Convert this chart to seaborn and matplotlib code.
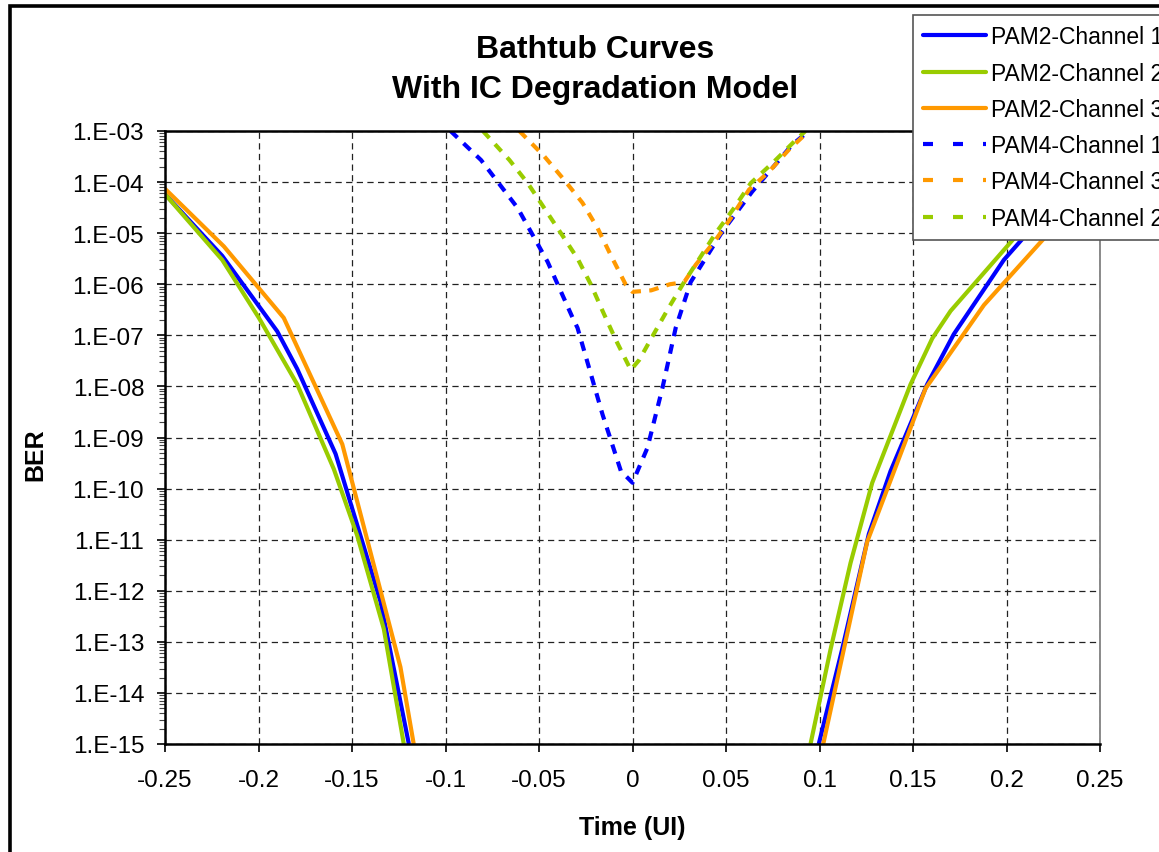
import numpy as np
import pandas as pd
import matplotlib
matplotlib.use("Agg")
import matplotlib.pyplot as plt
import matplotlib.ticker as mticker
from matplotlib.lines import Line2D
from matplotlib.patches import Rectangle
import seaborn as sns

# ---------------- data ----------------
pam2_ch1_left_x = [-0.25, -0.2194, -0.190, -0.1793, -0.1588, -0.1348, -0.1196]
pam2_ch1_left_y = [5.8e-5, 3.6e-6, 1.2e-7, 2.2e-8, 4.8e-10, 6.2e-13, 1e-15]
pam2_ch1_right_x = [0.0996, 0.1121, 0.1264, 0.138, 0.1576, 0.1718, 0.1986, 0.211, 0.25]
pam2_ch1_right_y = [1e-15, 7.1e-14, 1.3e-11, 2.2e-10, 1.1e-8, 1.05e-7, 3.0e-6, 9.8e-6, 2.0e-4]

pam2_ch2_left_x = [-0.25, -0.2194, -0.1998, -0.1793, -0.1597, -0.1472, -0.133, -0.1223]
pam2_ch2_left_y = [5.8e-5, 3.0e-6, 2.2e-7, 1.1e-8, 2.4e-10, 1.2e-11, 1.8e-13, 1e-15]
pam2_ch2_right_x = [0.0952, 0.1059, 0.1166, 0.1282, 0.1487, 0.1603, 0.1701, 0.1861, 0.2057, 0.25]
pam2_ch2_right_y = [1e-15, 7.1e-14, 3.5e-12, 1.3e-10, 1.1e-8, 8.7e-8, 3.0e-7, 1.4e-6, 9.3e-6, 2.5e-4]

pam2_ch3_left_x = [-0.25, -0.2185, -0.1865, -0.1552, -0.1241, -0.117]
pam2_ch3_left_y = [7.4e-5, 5.5e-6, 2.2e-7, 7.4e-10, 3.2e-14, 1e-15]
pam2_ch3_right_x = [0.102, 0.1255, 0.1567, 0.1879, 0.2218, 0.25]
pam2_ch3_right_y = [1e-15, 9.1e-12, 9.1e-9, 3.9e-7, 9.3e-6, 1.1e-4]

pam4_ch1_x = [-0.0973, -0.081, -0.0614, -0.0454, -0.032, -0.0294, -0.016, -0.0062, 0.0,
              0.008, 0.016, 0.0231, 0.0311, 0.048, 0.064, 0.0854, 0.0943]
pam4_ch1_y = [1e-3, 2.7e-4, 3.1e-5, 2.75e-6, 2.2e-7, 1.4e-7, 2.8e-9, 2.2e-10, 1.3e-10,
              6.3e-10, 9.3e-9, 1.4e-7, 1.1e-6, 1.07e-5, 6.5e-5, 5.4e-4, 1e-3]

pam4_ch3_x = [-0.0605, -0.0472, -0.0365, -0.0267, -0.0187, -0.0116, -0.0036, 0.0, 0.01,
              0.02, 0.0276, 0.0338, 0.0445, 0.0525, 0.0623, 0.073, 0.0836, 0.0943]
pam4_ch3_y = [1e-3, 3.2e-4, 1.1e-4, 3.9e-5, 1.26e-5, 3.7e-6, 9.8e-7, 7.1e-7, 7.6e-7,
              1e-6, 1.1e-6, 2.4e-6, 7.4e-6, 1.95e-5, 7.1e-5, 1.6e-4, 4.3e-4, 1e-3]

pam4_ch2_x = [-0.080, -0.0658, -0.056, -0.0472, -0.0383, -0.0294, -0.0222, -0.016, -0.0089,
              -0.0009, 0.0036, 0.0116, 0.0196, 0.0276, 0.0365, 0.0445, 0.0543, 0.0632,
              0.0756, 0.0872, 0.0925]
pam4_ch2_y = [1e-3, 2.7e-4, 9.5e-5, 3.1e-5, 1e-5, 3.2e-6, 9.8e-7, 3.0e-7, 8.1e-8,
              2.1e-8, 3.3e-8, 1.1e-7, 3.6e-7, 1.1e-6, 3.5e-6, 1e-5, 3.1e-5, 9.5e-5,
              2.5e-4, 6.6e-4, 1e-3]

series_labels = ["PAM2-Channel 1", "PAM2-Channel 2", "PAM2-Channel 3",
                 "PAM4-Channel 1", "PAM4-Channel 3", "PAM4-Channel 2"]
x_ticks = [-0.25, -0.2, -0.15, -0.1, -0.05, 0, 0.05, 0.1, 0.15, 0.2, 0.25]
x_tick_labels = ["-0.25", "-0.2", "-0.15", "-0.1", "-0.05", "0", "0.05", "0.1", "0.15", "0.2", "0.25"]
y_exponents = list(range(-15, -2))

# ---------------- styling ----------------
BLUE = "#0000FF"
GREEN = "#99CC00"
ORANGE = "#FF9900"

sns.set_style("white")
plt.rcParams["font.family"] = ["Liberation Sans", "DejaVu Sans"]
plt.rcParams["text.color"] = "black"
plt.rcParams["xtick.color"] = "black"
plt.rcParams["ytick.color"] = "black"
plt.rcParams["axes.labelcolor"] = "black"

W, H = 1159, 853
fig = plt.figure(figsize=(W / 100, H / 100), dpi=100)
ax = fig.add_axes([165 / W, 1 - 745 / H, (1100 - 165) / W, (745 - 132) / H])

LW = 3.0
DASH = (2.3, 2.0)


def draw(x, y, color, dashed=False):
    df = pd.DataFrame({"x": x, "ber": y})
    sns.lineplot(data=df, x="x", y="ber", ax=ax, color=color, lw=LW, sort=False,
                 estimator=None, legend=False, dashes=False)
    line = ax.lines[-1]
    if dashed:
        line.set_dashes(DASH)
        line.set_dash_capstyle("butt")
    else:
        line.set_solid_capstyle("butt")
        line.set_solid_joinstyle("round")
    return line


draw(pam2_ch1_left_x, pam2_ch1_left_y, BLUE)
draw(pam2_ch1_right_x, pam2_ch1_right_y, BLUE)
draw(pam2_ch2_left_x, pam2_ch2_left_y, GREEN)
draw(pam2_ch2_right_x, pam2_ch2_right_y, GREEN)
draw(pam2_ch3_left_x, pam2_ch3_left_y, ORANGE)
draw(pam2_ch3_right_x, pam2_ch3_right_y, ORANGE)
draw(pam4_ch1_x, pam4_ch1_y, BLUE, dashed=True)
draw(pam4_ch3_x, pam4_ch3_y, ORANGE, dashed=True)
draw(pam4_ch2_x, pam4_ch2_y, GREEN, dashed=True)

ax.set_yscale("log")
ax.set_xlim(-0.25, 0.25)
ax.set_ylim(1e-15, 1e-3)
ax.set_xticks(x_ticks)
ax.set_xticklabels(x_tick_labels)
ax.set_yticks([10.0 ** e for e in y_exponents])
ax.set_yticklabels([f"1.E-{-e:02d}" for e in y_exponents])
ax.yaxis.set_minor_locator(mticker.LogLocator(base=10, subs=np.arange(2, 10), numticks=100))
ax.yaxis.set_minor_formatter(mticker.NullFormatter())
ax.set_xlabel("")
ax.set_ylabel("")

ax.tick_params(axis="both", which="major", direction="out", length=6, width=1.2,
               color="black", labelsize=17.5, labelcolor="black", left=True, bottom=True)
ax.tick_params(axis="y", which="major", pad=9)
ax.tick_params(axis="x", which="major", pad=12)
ax.tick_params(axis="y", which="minor", direction="out", length=4, width=0.8,
               color="#444444", left=True)

ax.grid(True, which="major", axis="both", color="#222222", lw=0.9,
        linestyle=(0, (5, 3.5)))
ax.set_axisbelow(True)
for s in ax.spines.values():
    s.set_visible(True)
    s.set_color("black")
    s.set_linewidth(1.8)
ax.spines["right"].set_color("#777777")
ax.spines["right"].set_linewidth(1.2)

# titles / labels
fig.text(595 / W, 1 - 50 / H, "Bathtub Curves", ha="center", va="center",
         fontsize=23, fontweight="bold", color="black")
fig.text(595 / W, 1 - 90 / H, "With IC Degradation Model", ha="center", va="center",
         fontsize=23, fontweight="bold", color="black")
fig.text(632 / W, 1 - 828 / H, "Time (UI)", ha="center", va="center",
         fontsize=18, fontweight="bold", color="black")
fig.text(35 / W, 1 - 455 / H, "BER", ha="center", va="center", rotation=90,
         fontsize=18, fontweight="bold", color="black")

# legend
handles = [
    Line2D([], [], color=BLUE, lw=LW),
    Line2D([], [], color=GREEN, lw=LW),
    Line2D([], [], color=ORANGE, lw=LW),
    Line2D([], [], color=BLUE, lw=LW, dashes=(2.4, 4.8), dash_capstyle="butt"),
    Line2D([], [], color=ORANGE, lw=LW, dashes=(2.4, 4.8), dash_capstyle="butt"),
    Line2D([], [], color=GREEN, lw=LW, dashes=(2.4, 4.8), dash_capstyle="butt"),
]
leg = fig.legend(handles, series_labels, loc="upper left",
                 bbox_to_anchor=(913 / W, 1 - 16 / H), fontsize=16.5, frameon=True,
                 fancybox=False, framealpha=1, edgecolor="#555555",
                 handlelength=2.75, handletextpad=0.2, labelspacing=0.58,
                 borderpad=0.45, borderaxespad=0)
leg.get_frame().set_linewidth(1.2)
for t in leg.get_texts():
    t.set_color("black")

# outer border of chart area
fig.patches.append(Rectangle((10 / W, -0.2), 1.5, 1 - 7 / H + 0.2,
                             transform=fig.transFigure, fill=False,
                             edgecolor="black", lw=2.6))

fig.savefig("out.png", dpi=100)
